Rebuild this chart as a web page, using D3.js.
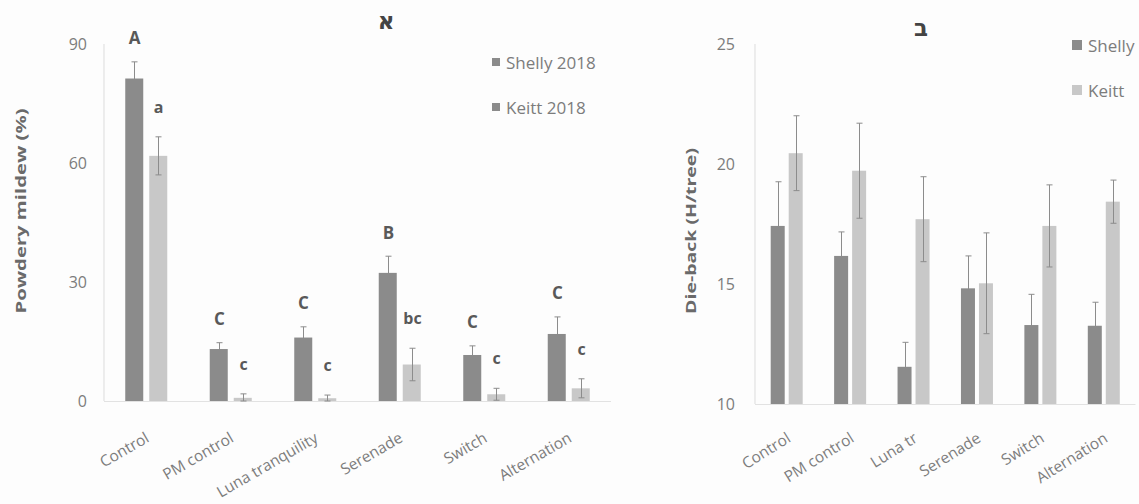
<!DOCTYPE html>
<html>
<head>
<meta charset="utf-8">
<script src="https://cdn.jsdelivr.net/npm/d3@7/dist/d3.min.js"></script>
<style>
  html, body { margin: 0; padding: 0; background: #fdfdfd; }
  svg { display: block; font-family: "Open Sans", "Noto Sans", sans-serif; }
</style>
</head>
<body>
<svg id="chart" width="1139" height="504"></svg>
<script>
// Treatments (full names on panel א, shortened on panel ב)
const treatmentsA = ["Control", "PM control", "Luna tranquility", "Serenade", "Switch", "Alternation"];
const treatmentsB = ["Control", "PM control", "Luna tr", "Serenade", "Switch", "Alternation"];

// Panel א – powdery mildew (%)
const mildewShelly    = [81.3, 13.1, 16.0, 32.3, 11.6, 16.9];
const mildewShellyErr = [4.2, 1.6, 2.7, 4.2, 2.3, 4.3];
const mildewKeitt     = [61.8, 0.8, 0.7, 9.2, 1.7, 3.2];
const mildewKeittErr  = [4.8, 1.0, 0.8, 4.1, 1.5, 2.4];
const mildewShellyLetters = ["A", "C", "C", "B", "C", "C"];
const mildewKeittLetters  = ["a", "c", "c", "bc", "c", "c"];
const mildewTicks = [0, 30, 60, 90];

// Panel ב – die-back (H/tree)
const diebackShelly    = [17.42, 16.17, 11.55, 14.82, 13.29, 13.26];
const diebackShellyErr = [1.84, 1.0, 1.02, 1.35, 1.28, 0.98];
const diebackKeitt     = [20.45, 19.72, 17.70, 15.03, 17.42, 18.43];
const diebackKeittErr  = [1.56, 1.98, 1.77, 2.1, 1.71, 0.9];
const diebackTicks = [10, 15, 20, 25];

const svg = d3.select("#chart");
const C = {
  shelly: "#8b8b8b",
  keitt: "#c8c8c8",
  err: "#8c8c8c",
  tick: "#7c7c7c",
  title: "#6a6a6a",
  letter: "#595959",
  axis: "#e2e2e2"
};

function panel(opt) {
  const g = svg.append("g");
  const x = d3.scaleBand().domain(opt.cats).range(opt.xRange).padding(0);
  const inner = d3.scaleBand().domain(["Shelly", "Keitt"])
    .range([0, x.step()]).paddingInner(opt.pi).paddingOuter(opt.po);
  const y = d3.scaleLinear().domain(opt.yDomain).range(opt.yRange);

  // faint axis lines
  g.append("line").attr("x1", opt.xRange[0]).attr("x2", opt.xRange[0])
    .attr("y1", y(opt.yDomain[0])).attr("y2", y(opt.yDomain[1]))
    .attr("stroke", C.axis).attr("stroke-width", 1.2);
  g.append("line").attr("x1", opt.xRange[0]).attr("x2", opt.xRange[1])
    .attr("y1", y(opt.yDomain[0]) + 0.5).attr("y2", y(opt.yDomain[0]) + 0.5)
    .attr("stroke", C.axis).attr("stroke-width", 1);

  // y axis tick labels
  const yAxis = d3.axisLeft(y).tickValues(opt.ticks).tickSize(0).tickPadding(opt.tickPad);
  const ya = g.append("g").attr("transform", `translate(${opt.xRange[0]},0)`).call(yAxis);
  ya.select(".domain").remove();
  ya.selectAll("text").attr("fill", C.tick).style("font-size", "16px")
    .style("font-family", "'Open Sans', sans-serif");

  // x axis labels, rotated
  const xAxis = d3.axisBottom(x).tickSize(0).tickPadding(0);
  const xa = g.append("g").attr("transform", `translate(0,${opt.xLabelY})`).call(xAxis);
  xa.select(".domain").remove();
  xa.selectAll("text")
    .attr("fill", C.tick).style("font-size", "15.5px")
    .style("font-family", "'Open Sans', sans-serif")
    .attr("text-anchor", "end").attr("dy", "0").attr("y", 0)
    .attr("transform", `translate(${opt.xLabelDx},0) rotate(${opt.rot})`);

  const series = [
    { key: "Shelly", vals: opt.shelly, errs: opt.shellyErr, color: C.shelly, letters: opt.shellyLetters, off: 24, errBelow: true },
    { key: "Keitt", vals: opt.keitt, errs: opt.keittErr, color: C.keitt, letters: opt.keittLetters, off: 30, errBelow: false }
  ];
  const base = y(opt.yDomain[0]);
  series.forEach(s => {
    const bw = inner.bandwidth();
    const cx = i => Math.round(x(opt.cats[i]) + inner(s.key) + bw / 2) + 0.5;
    const sg = g.append("g");
    // error bars (the dark series' whiskers sit behind its bars)
    const eg = s.errBelow ? sg.append("g") : null;
    sg.append("g").selectAll("rect").data(s.vals).join("rect")
      .attr("x", (d, i) => x(opt.cats[i]) + inner(s.key))
      .attr("width", bw)
      .attr("y", d => y(d))
      .attr("height", d => base - y(d))
      .attr("fill", s.color);
    const eg2 = (eg || sg.append("g")).attr("stroke", C.err).attr("stroke-width", 1);
    s.vals.forEach((v, i) => {
      const e = s.errs[i];
      const lo = Math.max(v - e, opt.yDomain[0]);
      eg2.append("line").attr("x1", cx(i)).attr("x2", cx(i))
        .attr("y1", y(v + e)).attr("y2", y(lo));
      eg2.append("line").attr("x1", cx(i) - 3).attr("x2", cx(i) + 3)
        .attr("y1", y(v + e)).attr("y2", y(v + e));
      eg2.append("line").attr("x1", cx(i) - 3).attr("x2", cx(i) + 3)
        .attr("y1", y(lo)).attr("y2", y(lo));
    });
    if (s.letters) {
      g.append("g").selectAll("text").data(s.letters).join("text")
        .attr("x", (d, i) => cx(i))
        .attr("y", (d, i) => y(s.vals[i] + s.errs[i]) - s.off)
        .attr("text-anchor", "middle").attr("dominant-baseline", "central")
        .attr("fill", C.letter).style("font-weight", "bold")
        .style("font-size", d => d === d.toUpperCase() ? "17px" : "16px")
        .text(d => d);
    }
  });

  // panel title (Hebrew letter)
  g.append("text").attr("x", opt.titleX).attr("y", opt.titleY)
    .attr("text-anchor", "middle").attr("dominant-baseline", "central")
    .style("font-family", "'DejaVu Sans', sans-serif").style("font-weight", "bold")
    .style("font-size", "23px").attr("fill", "#444").text(opt.title);

  // y axis title
  g.append("text")
    .attr("transform", `translate(${opt.yTitleX},${opt.yTitleY}) rotate(-90)`)
    .attr("text-anchor", "middle").attr("dominant-baseline", "central")
    .attr("fill", C.title).style("font-weight", "bold").style("font-size", "15px")
    .attr("textLength", opt.yTitleLen).attr("lengthAdjust", "spacingAndGlyphs")
    .text(opt.yTitle);

  // legend
  const lg = g.append("g");
  opt.legend.forEach((l, i) => {
    const ly = opt.legendY[i];
    lg.append("rect").attr("x", opt.legendX).attr("y", ly - opt.sw / 2)
      .attr("width", opt.sw).attr("height", opt.sw).attr("fill", l.color);
    lg.append("text").attr("x", opt.legendX + opt.sw + 6).attr("y", ly)
      .attr("dominant-baseline", "central").attr("fill", C.tick)
      .style("font-size", "17px").text(l.label);
  });
}

panel({
  cats: treatmentsA,
  xRange: [104, 611], pi: 0.25, po: 0.885,
  yDomain: [0, 90], yRange: [401, 44], ticks: mildewTicks, tickPad: 17,
  xLabelY: 441, xLabelDx: 4, rot: -30,
  shelly: mildewShelly, shellyErr: mildewShellyErr,
  keitt: mildewKeitt, keittErr: mildewKeittErr,
  shellyLetters: mildewShellyLetters, keittLetters: mildewKeittLetters,
  title: "א", titleX: 386, titleY: 21,
  yTitle: "Powdery mildew (%)", yTitleX: 20, yTitleY: 211, yTitleLen: 205,
  legend: [{ label: "Shelly 2018", color: C.shelly }, { label: "Keitt 2018", color: C.shelly }],
  legendX: 492, legendY: [62, 107], sw: 8
});

panel({
  cats: treatmentsB,
  xRange: [755, 1135.5], pi: 0.222, po: 0.873,
  yDomain: [10, 25], yRange: [404, 44], ticks: diebackTicks, tickPad: 20,
  xLabelY: 441, xLabelDx: 5, rot: -32,
  shelly: diebackShelly, shellyErr: diebackShellyErr,
  keitt: diebackKeitt, keittErr: diebackKeittErr,
  shellyLetters: null, keittLetters: null,
  title: "ב", titleX: 921, titleY: 28,
  yTitle: "Die-back (H/tree)", yTitleX: 690, yTitleY: 231, yTitleLen: 166,
  legend: [{ label: "Shelly", color: C.shelly }, { label: "Keitt", color: C.keitt }],
  legendX: 1072, legendY: [45, 90], sw: 10
});
</script>
</body>
</html>
